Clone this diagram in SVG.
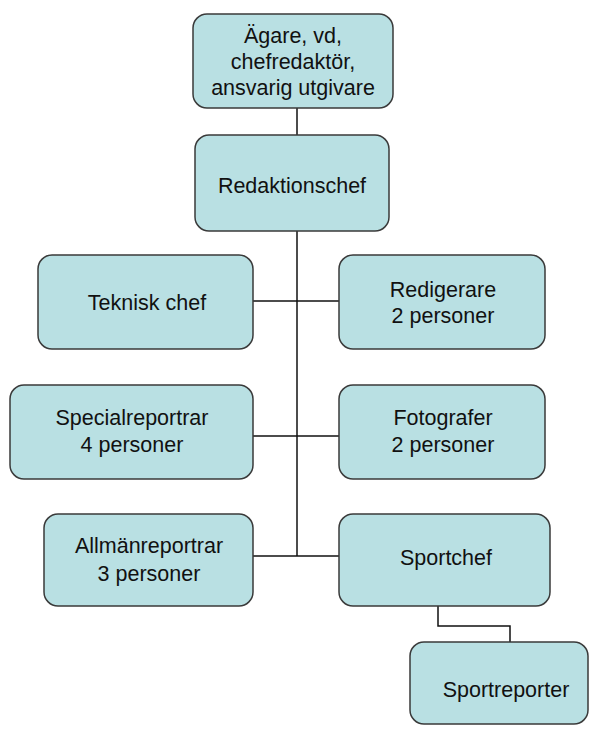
<svg xmlns="http://www.w3.org/2000/svg" width="597" height="730" viewBox="0 0 597 730">
<style>
.box{fill:#b9e0e3;stroke:#3a3a3a;stroke-width:1.5}
.t{font-family:"Liberation Sans",Arial,sans-serif;font-size:21.5px;fill:#111;text-anchor:middle}
.c{fill:none;stroke:#111;stroke-width:1.5}
</style>
<rect width="597" height="730" fill="#fff"/>
<g id="connectors">
<line class="c" x1="297" y1="108" x2="297" y2="135"/>
<line class="c" x1="297" y1="231" x2="297" y2="556"/>
<line class="c" x1="253" y1="301" x2="339" y2="301"/>
<line class="c" x1="253" y1="436" x2="339" y2="436"/>
<line class="c" x1="253" y1="556" x2="339" y2="556"/>
<polyline class="c" points="438,606 438,626 510,626 510,642"/>
</g>
<g id="agare"><rect class="box" x="193" y="14" width="200" height="94" rx="14"/>
<text class="t" x="293" y="43">Ägare, vd,</text><text class="t" x="293" y="69">chefredaktör,</text><text class="t" x="293" y="95">ansvarig utgivare</text></g>
<g id="redaktionschef"><rect class="box" x="195" y="135" width="194" height="96" rx="14"/>
<text class="t" x="292" y="193">Redaktionschef</text></g>
<g id="teknisk"><rect class="box" x="38" y="255" width="215" height="94" rx="14"/>
<text class="t" x="147" y="310">Teknisk chef</text></g>
<g id="redigerare"><rect class="box" x="339" y="255" width="206" height="94" rx="14"/>
<text class="t" x="443" y="297">Redigerare</text><text class="t" x="443" y="323">2 personer</text></g>
<g id="special"><rect class="box" x="10" y="385" width="243" height="94" rx="14"/>
<text class="t" x="132" y="425">Specialreportrar</text><text class="t" x="132" y="452">4 personer</text></g>
<g id="fotografer"><rect class="box" x="339" y="385" width="206" height="94" rx="14"/>
<text class="t" x="443" y="425">Fotografer</text><text class="t" x="443" y="452">2 personer</text></g>
<g id="allman"><rect class="box" x="44" y="514" width="209" height="92" rx="14"/>
<text class="t" x="149" y="553">Allmänreportrar</text><text class="t" x="149" y="581">3 personer</text></g>
<g id="sportchef"><rect class="box" x="339" y="514" width="211" height="92" rx="14"/>
<text class="t" x="446" y="565">Sportchef</text></g>
<g id="sportreporter"><rect class="box" x="410" y="642" width="178" height="82" rx="14"/>
<text class="t" x="506" y="697">Sportreporter</text></g>
</svg>
